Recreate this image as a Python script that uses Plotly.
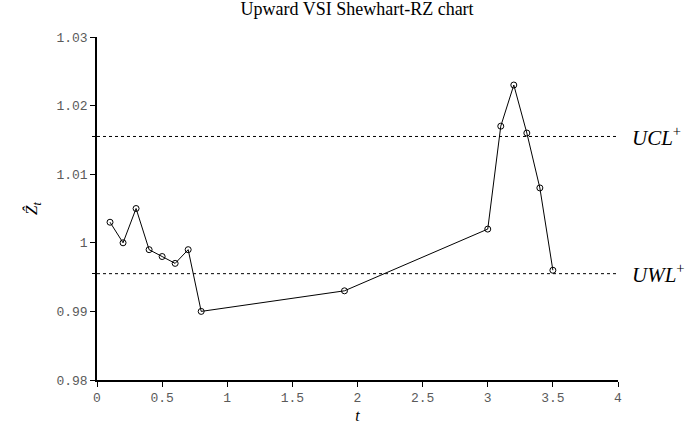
import plotly.graph_objects as go

t = [0.1, 0.2, 0.3, 0.4, 0.5, 0.6, 0.7, 0.8, 1.9, 3.0, 3.1, 3.2, 3.3, 3.4, 3.5]
z = [1.003, 1.000, 1.005, 0.999, 0.998, 0.997, 0.999, 0.990, 0.993, 1.002, 1.017, 1.023, 1.016, 1.008, 0.996]
UCL = 1.0155
UWL = 0.9955
x_range = [0, 4]
y_range = [0.98, 1.03]

fig = go.Figure()
fig.add_trace(go.Scatter(
    x=t, y=z, mode="lines+markers",
    line=dict(color="black", width=1),
    marker=dict(symbol="circle-open", size=6, color="black", line=dict(width=1)),
    showlegend=False, hoverinfo="skip"))
for lvl in (UCL, UWL):
    fig.add_trace(go.Scatter(
        x=x_range, y=[lvl, lvl], mode="lines",
        line=dict(color="black", width=1, dash="dot"),
        showlegend=False, hoverinfo="skip"))
# dummy trace on secondary axis for the limit ticks
fig.add_trace(go.Scatter(x=[None], y=[None], yaxis="y2", showlegend=False))

tickfont = dict(family="Liberation Mono, Courier New, monospace", size=13, color="#5a5a5a")
serif = "Liberation Serif, Times New Roman, serif"

fig.update_layout(
    width=690, height=424,
    margin=dict(l=97, r=72, t=37, b=44, autoexpand=False),
    paper_bgcolor="white", plot_bgcolor="white",
    title=dict(text="Upward VSI Shewhart-RZ chart", x=0.5175, xanchor="center",
               y=0.98, yanchor="middle", automargin=False,
               font=dict(family=serif, size=18, color="black")),
    xaxis=dict(range=x_range, dtick=0.5, showgrid=False, zeroline=False, automargin=False,
               showline=True, linecolor="black", linewidth=1.5,
               ticks="outside", ticklen=5, tickcolor="black", tickwidth=1,
               tickfont=tickfont,
               title=dict(text="<i>t</i>", font=dict(family=serif, size=16, color="black"), standoff=4)),
    yaxis=dict(range=y_range, dtick=0.01, showgrid=False, zeroline=False, automargin=False,
               showline=True, linecolor="black", linewidth=1.5,
               ticks="outside", ticklen=5, tickcolor="black", tickwidth=1,
               tickfont=tickfont,
               title=dict(text="<i>Ẑ<sub>t</sub></i>", font=dict(family=serif, size=17, color="black"), standoff=14)),
    yaxis2=dict(range=y_range, overlaying="y", side="left", tickvals=[UCL, UWL],
                ticktext=["", ""], showgrid=False, zeroline=False, showline=False, automargin=False,
                ticks="outside", ticklen=4, tickcolor="black", tickwidth=1),
)
fig.add_annotation(x=1, xref="paper", y=UCL, yref="y", xanchor="left", xshift=12,
                   text="<i>UCL</i><sup>+</sup>", showarrow=False,
                   font=dict(family=serif, size=21, color="black"))
fig.add_annotation(x=1, xref="paper", y=UWL, yref="y", xanchor="left", xshift=12,
                   text="<i>UWL</i><sup>+</sup>", showarrow=False,
                   font=dict(family=serif, size=21, color="black"))

fig.write_html("out.html", config={"displayModeBar": False},
               post_script="document.body.style.margin='0px';")
